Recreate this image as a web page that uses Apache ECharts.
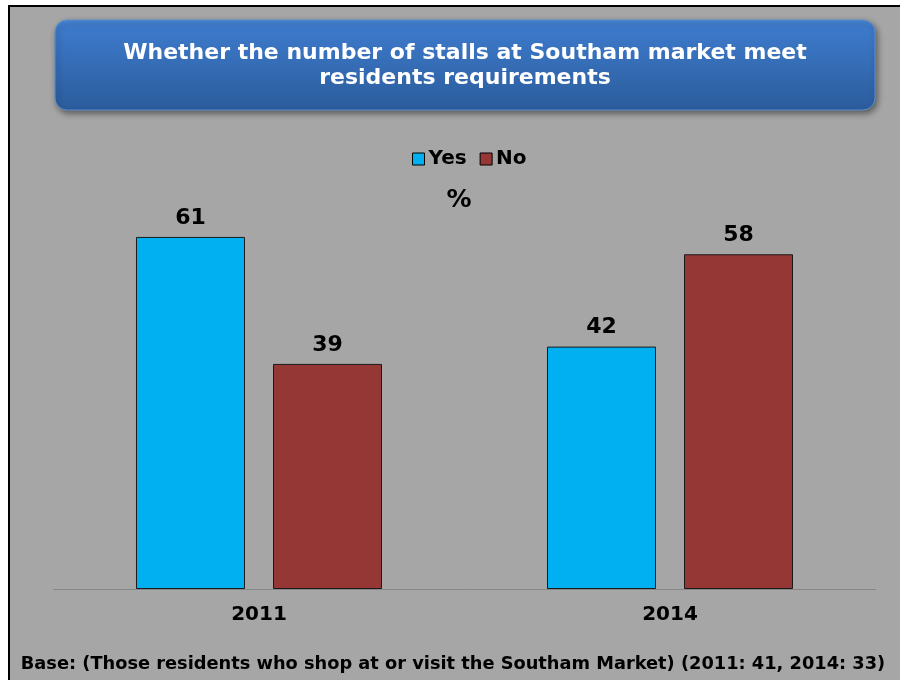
<!DOCTYPE html>
<html>
<head>
<meta charset="utf-8">
<script src="https://cdn.jsdelivr.net/npm/echarts@6/dist/echarts.min.js"></script>
<style>
html, body { margin: 0; padding: 0; background: #ffffff; }
#chart { width: 900px; height: 680px; }
</style>
</head>
<body>
<div id="chart"></div>
<script>
// data
var years = ['2011', '2014'];
var yesValues = [61, 42];
var noValues = [39, 58];
var seriesNames = ['Yes', 'No'];
var titleLines = ['Whether the number of stalls at Southam market meet', 'residents requirements'];
var unitText = '%';
var footText = 'Base: (Those residents who shop at or visit the Southam Market) (2011: 41, 2014: 33)';

var myChart = echarts.init(document.getElementById('chart'));
var boldFont = 'DejaVu Sans';

var labelStyle = {
	show: true,
	position: 'top',
	distance: 8,
	color: '#000',
	fontFamily: boldFont,
	fontWeight: 'bold',
	fontSize: 22
};

var option = {
	backgroundColor: '#ffffff',
	animation: false,
	graphic: [
		// outer panel with black border
		{ type: 'rect', z: -10, shape: { x: 9, y: 6, width: 900, height: 700 },
			style: { fill: '#a6a6a6', stroke: '#000', lineWidth: 2 } },
		// title box
		{ type: 'rect', z: 1, shape: { x: 55, y: 20, width: 820, height: 90, r: 12 },
			style: {
				fill: new echarts.graphic.LinearGradient(0, 0, 0, 1, [
					{ offset: 0, color: '#4a88d6' },
					{ offset: 0.08, color: '#3d7acb' },
					{ offset: 1, color: '#2b5c9c' }
				]),
				stroke: '#5a8fd0', lineWidth: 1,
				shadowBlur: 6, shadowOffsetX: 2, shadowOffsetY: 3, shadowColor: 'rgba(0,0,0,0.45)'
			} },
		{ type: 'text', z: 2, x: 465, y: 65.5,
			style: {
				text: titleLines.join('\n'), fill: '#ffffff', align: 'center', verticalAlign: 'middle',
				fontFamily: boldFont, fontWeight: 'bold', fontSize: 22, lineHeight: 25
			} },
		{ type: 'text', z: 2, x: 459, y: 200,
			style: {
				text: unitText, fill: '#000', align: 'center', verticalAlign: 'middle',
				fontFamily: boldFont, fontWeight: 'bold', fontSize: 25
			} },
		{ type: 'text', z: 2, x: 453, y: 664,
			style: {
				text: footText, fill: '#000', align: 'center', verticalAlign: 'middle',
				fontFamily: boldFont, fontWeight: 'bold', fontSize: 17.8
			} }
	],
	legend: {
		data: seriesNames,
		left: 407,
		top: 144,
		icon: 'rect',
		itemWidth: 12,
		itemHeight: 12,
		itemGap: 13,
		itemStyle: { borderColor: '#000', borderWidth: 1 },
		textStyle: { color: '#000', fontFamily: boldFont, fontWeight: 'bold', fontSize: 20, padding: [0, 0, 0, -1] }
	},
	grid: {
		left: 53.5,
		right: 24.5,
		top: 185,
		bottom: 91,
		containLabel: false
	},
	xAxis: {
		type: 'category',
		data: years,
		axisLine: { show: true, lineStyle: { color: '#868686', width: 1 } },
		axisTick: { show: false },
		axisLabel: {
			color: '#000', fontFamily: boldFont, fontWeight: 'bold', fontSize: 20, margin: 16
		}
	},
	yAxis: {
		type: 'value',
		min: 0,
		max: 70,
		show: false,
		splitLine: { show: false }
	},
	series: [{
		name: seriesNames[0],
		type: 'bar',
		data: yesValues,
		barWidth: 109,
		barGap: '25.7%',
		itemStyle: { color: '#00b0f0', borderColor: '#1a1a1a', borderWidth: 1 },
		label: labelStyle
	}, {
		name: seriesNames[1],
		type: 'bar',
		data: noValues,
		barWidth: 109,
		itemStyle: { color: '#953735', borderColor: '#1a1a1a', borderWidth: 1 },
		label: labelStyle
	}]
};
myChart.setOption(option);
window.onresize = myChart.resize;
</script>
</body>
</html>
